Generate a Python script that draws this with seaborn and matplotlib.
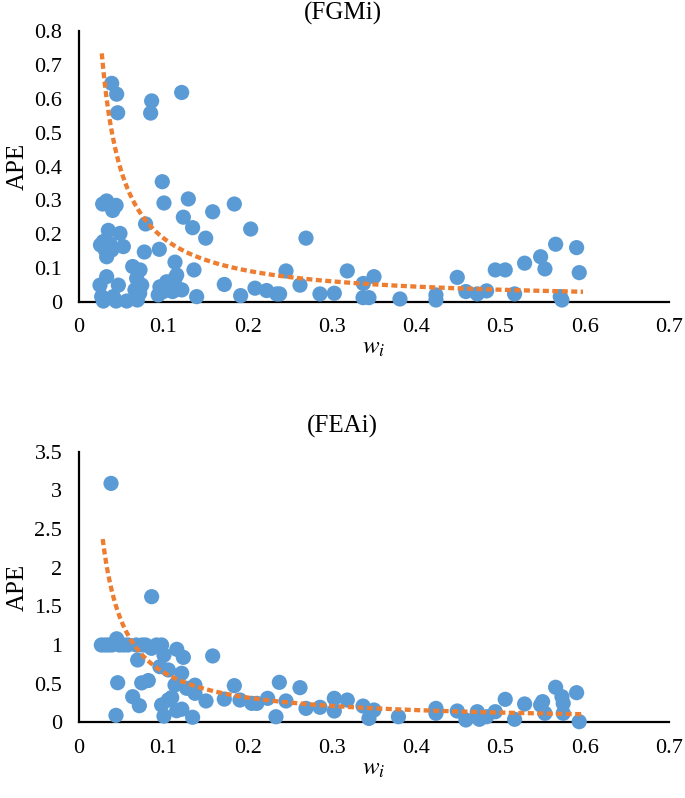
import numpy as np
import pandas as pd
import matplotlib
matplotlib.use("Agg")
import matplotlib.pyplot as plt
import seaborn as sns

# ---------------- data ----------------
fgm_w = [0.0388, 0.0447, 0.0459, 0.0862, 0.0850, 0.1218,
         0.0988, 0.1008, 0.1297, 0.1238, 0.1348, 0.1586, 0.1503, 0.0790,
         0.0953, 0.0775, 0.1139, 0.1364, 0.1159,
         0.0281, 0.0328, 0.0400, 0.0440, 0.0348, 0.0486, 0.0255, 0.0289, 0.0368,
         0.0388, 0.0308, 0.0328, 0.0526,
         0.0637, 0.0724, 0.0328, 0.0249, 0.0467, 0.0684, 0.0744, 0.0269, 0.0289,
         0.0407, 0.0440, 0.0566, 0.0692, 0.0664, 0.0720,
         0.0960, 0.1040, 0.1139, 0.1220, 0.1396, 0.0940, 0.1080, 0.1180, 0.1000, 0.1110,
         0.1843, 0.2037, 0.2693, 0.2456, 0.3183, 0.3500, 0.3373, 0.1724, 0.2088,
         0.2622, 0.2226, 0.2345, 0.2380, 0.1918, 0.2859, 0.3029, 0.3370, 0.3440, 0.3808,
         0.4235, 0.4235, 0.4488, 0.4590, 0.4725, 0.4836, 0.4939, 0.5057, 0.5168,
         0.5287, 0.5477, 0.5528, 0.5655, 0.5904, 0.5935, 0.5730, 0.5710]
fgm_ape = [0.646, 0.614, 0.559, 0.594, 0.558, 0.619,
           0.355, 0.292, 0.304, 0.250, 0.219, 0.266, 0.188, 0.230,
           0.155, 0.147, 0.117, 0.094, 0.079,
           0.289, 0.298, 0.270, 0.285, 0.211, 0.202, 0.168, 0.178, 0.171,
           0.153, 0.155, 0.133, 0.163,
           0.104, 0.094, 0.074, 0.049, 0.049, 0.069, 0.049, 0.015, 0.002,
           0.015, 0.002, 0.002, 0.005, 0.035, 0.025,
           0.044, 0.059, 0.069, 0.035, 0.015, 0.020, 0.040, 0.037, 0.030, 0.030,
           0.289, 0.215, 0.188, 0.091, 0.091, 0.074, 0.054, 0.051, 0.040,
           0.049, 0.033, 0.023, 0.023, 0.018, 0.023, 0.025, 0.012, 0.012, 0.008,
           0.020, 0.005, 0.072, 0.030, 0.023, 0.032, 0.094, 0.094, 0.023,
           0.114, 0.133, 0.097, 0.170, 0.160, 0.086, 0.005, 0.015]

fea_w = [0.0380, 0.0862,
         0.0265, 0.0310, 0.0350, 0.0390, 0.0447, 0.0480, 0.0530, 0.0580, 0.0680,
         0.0750, 0.0790, 0.0860, 0.0920, 0.0980,
         0.1008, 0.1160, 0.1238, 0.1586, 0.0696, 0.0960, 0.1060, 0.1218, 0.1139,
         0.1277, 0.1376, 0.1376, 0.0459, 0.0744, 0.0822, 0.0637, 0.0716, 0.0980,
         0.1060, 0.1100, 0.1159, 0.1220, 0.1008, 0.1348, 0.0439,
         0.1507, 0.1843, 0.2377, 0.2622, 0.1724, 0.1910, 0.2050, 0.2110, 0.2238,
         0.2456, 0.2693, 0.2859, 0.3029, 0.3029, 0.3183, 0.3370, 0.3500, 0.3440,
         0.2337, 0.3790,
         0.4235, 0.4235, 0.4488, 0.4590, 0.4725, 0.4750, 0.4836, 0.4939, 0.5057,
         0.5168, 0.5287, 0.5477, 0.5500, 0.5528, 0.5655, 0.5730, 0.5745, 0.5745,
         0.5904, 0.5935]
fea_ape = [3.09, 1.625,
           1.00, 1.00, 1.00, 1.00, 1.08, 1.00, 1.00, 1.00, 1.00,
           1.00, 1.00, 0.957, 1.00, 1.00,
           0.87, 0.944, 0.84, 0.858, 0.806, 0.72, 0.677, 0.634, 0.483,
           0.44, 0.48, 0.375, 0.512, 0.51, 0.54, 0.331, 0.215, 0.224,
           0.29, 0.32, 0.15, 0.17, 0.08, 0.065, 0.09,
           0.276, 0.474, 0.517, 0.448, 0.30, 0.288, 0.245, 0.245, 0.31,
           0.276, 0.18, 0.194, 0.31, 0.146, 0.288, 0.21, 0.159, 0.05,
           0.072, 0.072,
           0.18, 0.116, 0.146, 0.03, 0.137, 0.039, 0.072, 0.137, 0.297,
           0.039, 0.237, 0.224, 0.267, 0.116, 0.453, 0.331, 0.245, 0.116,
           0.383, 0.008]

# power trendline (APE = a * w^b) coefficients and drawn w-range
fgm_trend = (0.01723, -1.039)
fea_trend = (0.0620, -1.020)
fgm_trend_range = (0.0270, 0.598)
fea_trend_range = (0.0281, 0.598)

titles = ["(FGMi)", "(FEAi)"]
y_limits = [(0, 0.8), (0, 3.5)]
y_ticks = [np.arange(0, 0.81, 0.1), np.arange(0, 3.51, 0.5)]
y_ticklabels = [["0", "0.1", "0.2", "0.3", "0.4", "0.5", "0.6", "0.7", "0.8"],
                ["0", "0.5", "1", "1.5", "2", "2.5", "3", "3.5"]]
x_ticks = np.arange(0, 0.71, 0.1)
x_ticklabels = ["0", "0.1", "0.2", "0.3", "0.4", "0.5", "0.6", "0.7"]

# ---------------- styling ----------------
sns.set_theme(style="white")
plt.rcParams["font.family"] = ["Liberation Serif", "DejaVu Serif"]
plt.rcParams["mathtext.fontset"] = "stix"

BLUE = "#5B9BD5"
ORANGE = "#ED7D31"

fig = plt.figure(figsize=(6.85, 7.98), dpi=100)
W, H = 685, 798
boxes = [(79, 31.3, 669, 301.7), (79, 451.7, 669, 722.3)]
title_y = [13, 426]

datasets = [(fgm_w, fgm_ape, fgm_trend, fgm_trend_range),
            (fea_w, fea_ape, fea_trend, fea_trend_range)]

for i, (w, ape, (a, b), (x0, x1)) in enumerate(datasets):
    l, t, r, btm = boxes[i]
    ax = fig.add_axes([l / W, 1 - btm / H, (r - l) / W, (btm - t) / H])
    df = pd.DataFrame({"w": w, "APE": ape})
    sns.scatterplot(data=df, x="w", y="APE", ax=ax, color=BLUE, s=120,
                    edgecolor="none", linewidth=0, clip_on=False, zorder=3)
    xs = np.geomspace(x0, x1, 300)
    ax.plot(xs, a * xs ** b, color=ORANGE, lw=3.1, ls=(0, (1.4, 0.8)),
            dash_capstyle="butt", solid_capstyle="butt", zorder=4, clip_on=False)

    ax.set_xlim(0, 0.7)
    ax.set_ylim(*y_limits[i])
    ax.set_xticks(x_ticks)
    ax.set_xticklabels(x_ticklabels)
    ax.set_yticks(y_ticks[i])
    ax.set_yticklabels(y_ticklabels[i])
    ax.tick_params(axis="both", direction="in", length=5, width=1.5,
                   labelsize=16, color="black", labelcolor="black")
    ax.tick_params(axis="y", pad=12)
    ax.tick_params(axis="x", pad=12)
    for side in ["top", "right"]:
        ax.spines[side].set_visible(False)
    for side in ["left", "bottom"]:
        ax.spines[side].set_color("black")
        ax.spines[side].set_linewidth(1.6)
        ax.spines[side].set_zorder(2)
    ax.set_xlabel(r"$w_i$", fontsize=18, color="black", labelpad=0)
    ax.set_ylabel("APE", fontsize=18, color="black", labelpad=4)
    ax.grid(False)
    fig.text(0.5, 1 - title_y[i] / H, titles[i], ha="center", va="center",
             fontsize=18, color="black")

fig.savefig("out.png", dpi=100)
